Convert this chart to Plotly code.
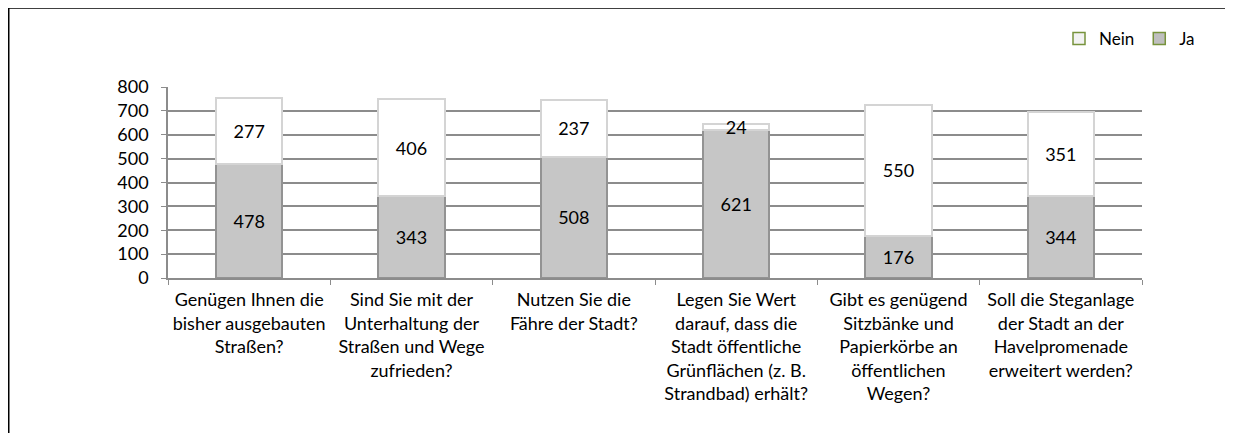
import plotly.graph_objects as go

categories = [
    "Genügen Ihnen die<br>bisher ausgebauten<br>Straßen?",
    "Sind Sie mit der<br>Unterhaltung der<br>Straßen und Wege<br>zufrieden?",
    "Nutzen Sie die<br>Fähre der Stadt?",
    "Legen Sie Wert<br>darauf, dass die<br>Stadt öffentliche<br>Grünflächen (z. B.<br>Strandbad) erhält?",
    "Gibt es genügend<br>Sitzbänke und<br>Papierkörbe an<br>öffentlichen<br>Wegen?",
    "Soll die Steganlage<br>der Stadt an der<br>Havelpromenade<br>erweitert werden?",
]
ja = [478, 343, 508, 621, 176, 344]
nein = [277, 406, 237, 24, 550, 351]
y_ticks = [0, 100, 200, 300, 400, 500, 600, 700, 800]

FONT = "Lato"
OFF = 8  # page body margin
W, H = 1233 - OFF, 433 - OFF
L = 168 - OFF
T = 87 - OFF
R = W - (1142 - OFF)
B = H - (278 - OFF)
pw, ph = W - L - R, H - T - B

def px_x(p):
    return (p - OFF - L) / pw

def px_y(p):
    return (H - B - (p - OFF)) / ph

fig = go.Figure()
fig.add_trace(go.Bar(
    x=categories, y=ja, name="Ja", showlegend=False,
    marker=dict(color="#c6c6c6", line=dict(color="#939393", width=2)),
    text=[str(v) for v in ja], textposition="inside", insidetextanchor="middle",
    textangle=0, constraintext="none",
    textfont=dict(family=FONT, size=18, color="#000000"), width=0.41,
))
fig.add_trace(go.Bar(
    x=categories, y=nein, name="Nein", showlegend=False,
    marker=dict(color="#ffffff", line=dict(color="#d4d4d4", width=2)),
    text=[str(v) for v in nein], textposition="inside", insidetextanchor="middle",
    textangle=0, constraintext="none",
    textfont=dict(family=FONT, size=18, color="#000000"), width=0.41,
))
# legend entries
fig.add_trace(go.Bar(x=[None], y=[None], name="Nein",
                     marker=dict(color="#f2f2f2", line=dict(color="#77933c", width=1.5))))
fig.add_trace(go.Bar(x=[None], y=[None], name="Ja",
                     marker=dict(color="#bfbfbf", line=dict(color="#77933c", width=1.5))))

fig.update_layout(
    width=W, height=H,
    margin=dict(l=L, r=R, t=T, b=B),
    barmode="stack",
    paper_bgcolor="white", plot_bgcolor="white",
    font=dict(family=FONT, size=18, color="#000000"),
    uniformtext=dict(mode="show", minsize=18),
    legend=dict(orientation="h", x=px_x(1200), y=px_y(21), xanchor="right", yanchor="top",
                font=dict(family=FONT, size=17), itemwidth=30, traceorder="normal",
                bgcolor="rgba(0,0,0,0)"),
    xaxis=dict(
        showline=True, linecolor="#8c8c8c", linewidth=1.5,
        ticks="outside", tickson="boundaries", ticklen=5, tickcolor="#8c8c8c",
        tickfont=dict(family=FONT, size=18, color="#000000"),
        ticklabelstandoff=5,
        automargin=False, showgrid=False, fixedrange=True,
    ),
    yaxis=dict(
        range=[0, 800], tickvals=y_ticks, ticks="outside", ticklen=5, tickcolor="#8c8c8c",
        showline=True, linecolor="#8c8c8c", linewidth=1.5,
        showgrid=True, gridcolor="#8c8c8c", gridwidth=1.5,
        tickfont=dict(family=FONT, size=18, color="#000000"),
        ticklabelstandoff=9,
        automargin=False, zeroline=False, fixedrange=True,
    ),
    bargap=0.59,
    shapes=[
        dict(type="line", xref="paper", yref="paper", x0=px_x(8), x1=px_x(1240),
             y0=px_y(8), y1=px_y(8), line=dict(color="#000000", width=1.5)),
        dict(type="line", xref="paper", yref="paper", x0=px_x(8.75), x1=px_x(8.75),
             y0=px_y(7.5), y1=px_y(440), line=dict(color="#000000", width=1.5)),
    ],
)

fig.write_html("out.html")
